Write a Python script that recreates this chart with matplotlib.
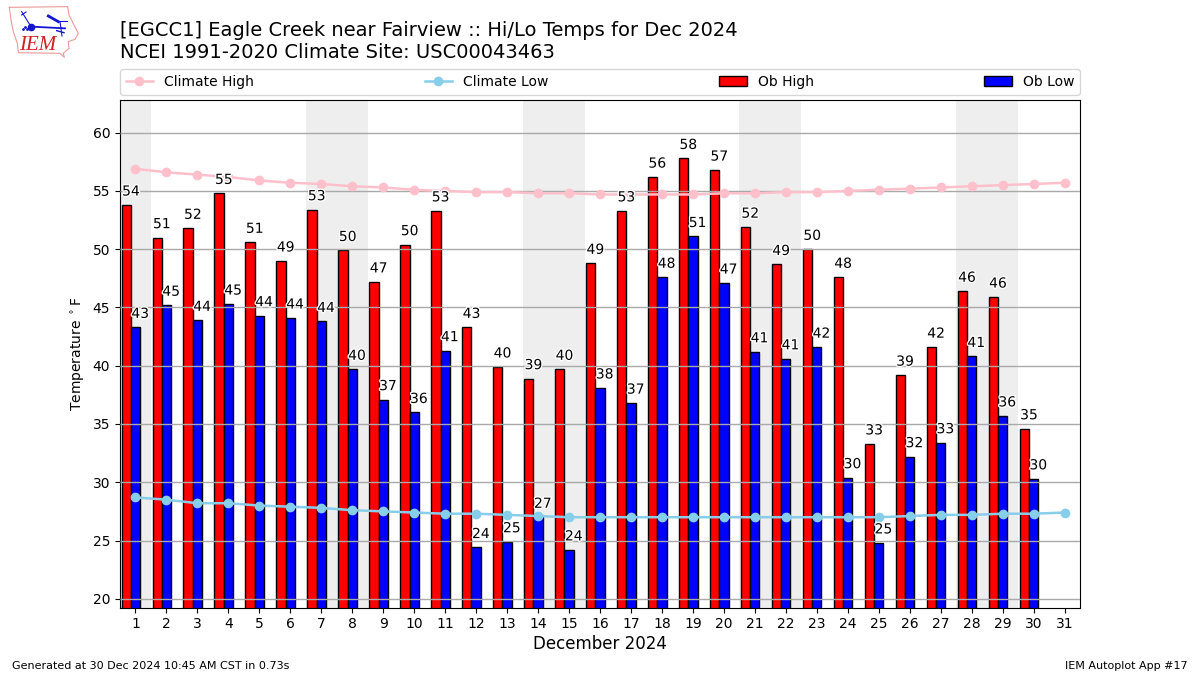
"""
December 2024 daily hi/lo temperatures vs climatology for Eagle Creek near Fairview.

Output: out.png
"""

import matplotlib
matplotlib.use('Agg')
import matplotlib.pyplot as plt
import matplotlib.patheffects as pe
import numpy as np

days = list(range(1, 32))
ob_high = [53.8, 51.0, 51.8, 54.8, 50.6, 49.0, 53.4, 49.9, 47.2, 50.4,
           53.3, 43.3, 39.9, 38.9, 39.7, 48.8, 53.3, 56.2, 57.8, 56.8,
           51.9, 48.7, 50.0, 47.6, 33.3, 39.2, 41.6, 46.4, 45.9, 34.6]
ob_low = [43.3, 45.2, 43.9, 45.3, 44.3, 44.1, 43.8, 39.7, 37.1, 36.0,
          41.3, 24.4, 24.9, 27.0, 24.2, 38.1, 36.8, 47.6, 51.1, 47.1,
          41.2, 40.6, 41.6, 30.4, 24.8, 32.2, 33.4, 40.8, 35.7, 30.3]
climate_high = [56.9, 56.6, 56.4, 56.2, 55.9, 55.7, 55.6, 55.4, 55.3, 55.1,
                55.0, 54.9, 54.9, 54.8, 54.8, 54.7, 54.7, 54.7, 54.7, 54.8,
                54.8, 54.9, 54.9, 55.0, 55.1, 55.2, 55.3, 55.4, 55.5, 55.6, 55.7]
climate_low = [28.7, 28.5, 28.2, 28.2, 28.0, 27.9, 27.8, 27.6, 27.5, 27.4,
               27.3, 27.3, 27.2, 27.1, 27.0, 27.0, 27.0, 27.0, 27.0, 27.0,
               27.0, 27.0, 27.0, 27.0, 27.0, 27.1, 27.2, 27.2, 27.3, 27.3, 27.4]
# first and last day of each weekend block
weekends = [(0, 1), (7, 8), (14, 15), (21, 22), (28, 29)]
y_ticks = list(range(20, 65, 5))

WIDTH, HEIGHT = 1200, 675


def draw_logo(fig):
    """Rough redraw of the IEM logo, coordinates are in 3x pixels."""
    ax = fig.add_axes([0, 1 - 60 / HEIGHT, 100 / WIDTH, 60 / HEIGHT])
    ax.set_xlim(0, 300)
    ax.set_ylim(180, 0)
    ax.axis('off')
    outline = [(28, 22), (203, 20), (207, 45), (222, 75), (235, 100), (225, 118),
               (205, 125), (207, 145), (190, 160), (193, 172), (180, 160),
               (55, 158), (52, 130), (40, 95), (33, 60), (28, 22)]
    ax.plot(*zip(*outline), color='#eb9a9a', lw=0.8)
    blue = '#1515d0'
    ax.plot([95, 195], [80, 85], color=blue, lw=1.3)
    ax.plot([65, 90], [35, 75], color=blue, lw=0.8)
    ax.plot([65, 78], [45, 36], color=blue, lw=0.8)
    ax.plot([145, 175], [48, 65], color=blue, lw=2)
    ax.plot([170, 200], [64, 64], color=blue, lw=0.8)
    ax.plot([180, 186], [65, 108], color=blue, lw=0.8)
    ax.plot([170, 192], [92, 98], color=blue, lw=1)
    ax.plot([93], [80], 'o', color=blue, ms=4.5)
    ax.plot([70, 75, 80], [87, 80, 87], '.', color=blue, ms=2)
    ax.text(112, 135, 'IEM', color='#d02020', fontsize=15, style='italic',
            family='Liberation Serif', ha='center', va='center')


def main():
    fig = plt.figure(figsize=(WIDTH / 100, HEIGHT / 100), dpi=100)
    ax = fig.add_axes([0.1, 0.1, 0.8, 508 / HEIGHT])

    # weekend shading
    for start, end in weekends:
        ax.axvspan(start - 0.5, end + 0.5, color='#eeeeee', lw=0, zorder=0)

    obs_days = np.array(days[:len(ob_high)])
    ax.bar(obs_days - 0.3, ob_high, width=0.3, color='r', edgecolor='k',
           label='Ob High', zorder=1)
    ax.bar(obs_days, ob_low, width=0.3, color='b', edgecolor='k',
           label='Ob Low', zorder=1)

    # grid sits on top of the bars in the original
    ax.set_yticks(y_ticks)
    ax.yaxis.grid(True, color='darkgrey', lw=1, zorder=1.5)
    ax.set_axisbelow(False)

    ax.plot(days, climate_high, '-o', color='pink', lw=1.8, label='Climate High', zorder=3)
    ax.plot(days, climate_low, '-o', color='skyblue', lw=1.8, label='Climate Low', zorder=3)

    outline = [pe.withStroke(linewidth=2, foreground='white')]
    for offset, values in [(-0.3, ob_high), (0, ob_low)]:
        for day, val in zip(obs_days, values):
            ax.text(day + offset + 0.15, val + 0.55, f'{val:.0f}', ha='center',
                    va='bottom', fontsize=10, path_effects=outline, zorder=4)

    ax.set_xticks(days)
    ax.set_xlim(0.5, 31.5)
    ax.set_ylim(19.25, 62.85)
    ax.set_xlabel('December 2024', fontsize=12, labelpad=3)
    ax.set_ylabel(r'Temperature $^\circ$F', fontsize=10)

    ax.legend(loc='lower left', bbox_to_anchor=(0, 1 + 5 / 508, 1, 0.01), ncol=4,
              mode='expand', borderaxespad=0)

    fig.text(120 / WIDTH, 1 - 62 / HEIGHT,
             '[EGCC1] Eagle Creek near Fairview :: Hi/Lo Temps for Dec 2024\n'
             'NCEI 1991-2020 Climate Site: USC00043463',
             fontsize=14, ha='left', va='bottom')
    fig.text(12 / WIDTH, 1 - 666 / HEIGHT, 'Generated at 30 Dec 2024 10:45 AM CST in 0.73s',
             fontsize=8, ha='left', va='center')
    fig.text(1188 / WIDTH, 1 - 666 / HEIGHT, 'IEM Autoplot App #17',
             fontsize=8, ha='right', va='center')

    draw_logo(fig)
    fig.savefig('out.png', dpi=100)
    plt.close(fig)


if __name__ == '__main__':
    main()
